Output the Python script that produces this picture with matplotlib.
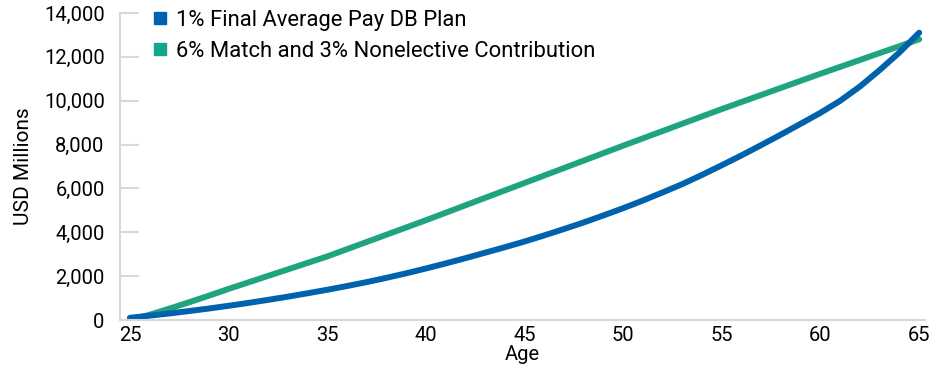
import matplotlib.pyplot as plt
from matplotlib.lines import Line2D
from matplotlib.ticker import FuncFormatter

plt.rcParams['font.family'] = ['Roboto', 'DejaVu Sans']

# accumulated value by age, USD millions
db_ages = list(range(25, 66))
db_values = [100, 200, 300, 410, 525, 650, 780, 920, 1065, 1220,
             1380, 1550, 1730, 1925, 2130, 2350, 2580, 2820, 3070, 3320,
             3580, 3860, 4150, 4450, 4770, 5100, 5450, 5820, 6200, 6620,
             7060, 7510, 7980, 8460, 8950, 9450, 10000, 10650, 11400, 12200,
             13100]

dc_ages = [25, 26, 27, 28, 29, 30, 35, 40, 45, 50, 55, 60, 65]
dc_values = [0, 240, 520, 810, 1110, 1420, 2900, 4550, 6250, 7950, 9620, 11230, 12800]

series_names = ['1% Final Average Pay DB Plan', '6% Match and 3% Nonelective Contribution']
blue = '#0062ad'
green = '#20a47f'
grid_gray = '#d6d8dc'

fig = plt.figure(figsize=(9.34, 3.7), dpi=100)
ax = fig.add_axes([0.1285, 0.135, 0.862, 0.83])

ax.plot(dc_ages, dc_values, color=green, lw=4.3, solid_capstyle='round')
ax.plot(db_ages, db_values, color=blue, lw=4.3, solid_capstyle='round')

ax.set_xlim(24.5, 65.3)
ax.set_ylim(0, 14000)
ax.set_xticks(range(25, 66, 5))
ax.set_yticks(range(0, 14001, 2000))
ax.yaxis.set_major_formatter(FuncFormatter(lambda v, _: f'{int(v):,}'))

ax.tick_params(axis='y', direction='in', length=14, width=1.5, color=grid_gray,
               labelsize=14.5, pad=11)
ax.tick_params(axis='x', length=0, labelsize=14.5, pad=4)

for side in ['top', 'right']:
    ax.spines[side].set_visible(False)
for side in ['left', 'bottom']:
    ax.spines[side].set_color(grid_gray)
    ax.spines[side].set_linewidth(1.5)

ax.set_xlabel('Age', fontsize=14.5, labelpad=0)
ax.set_ylabel('USD Millions', fontsize=15, labelpad=8)

handles = [Line2D([], [], ls='none', marker='s', ms=8, color=c) for c in (blue, '#12a68e')]
ax.legend(handles, series_names, loc='upper left', bbox_to_anchor=(0.152, 0.997),
          bbox_transform=fig.transFigure, frameon=False, fontsize=15.8,
          handletextpad=0.35, labelspacing=0.45, handlelength=0.8, borderaxespad=0)

fig.savefig('out.png', dpi=100, facecolor='white')
